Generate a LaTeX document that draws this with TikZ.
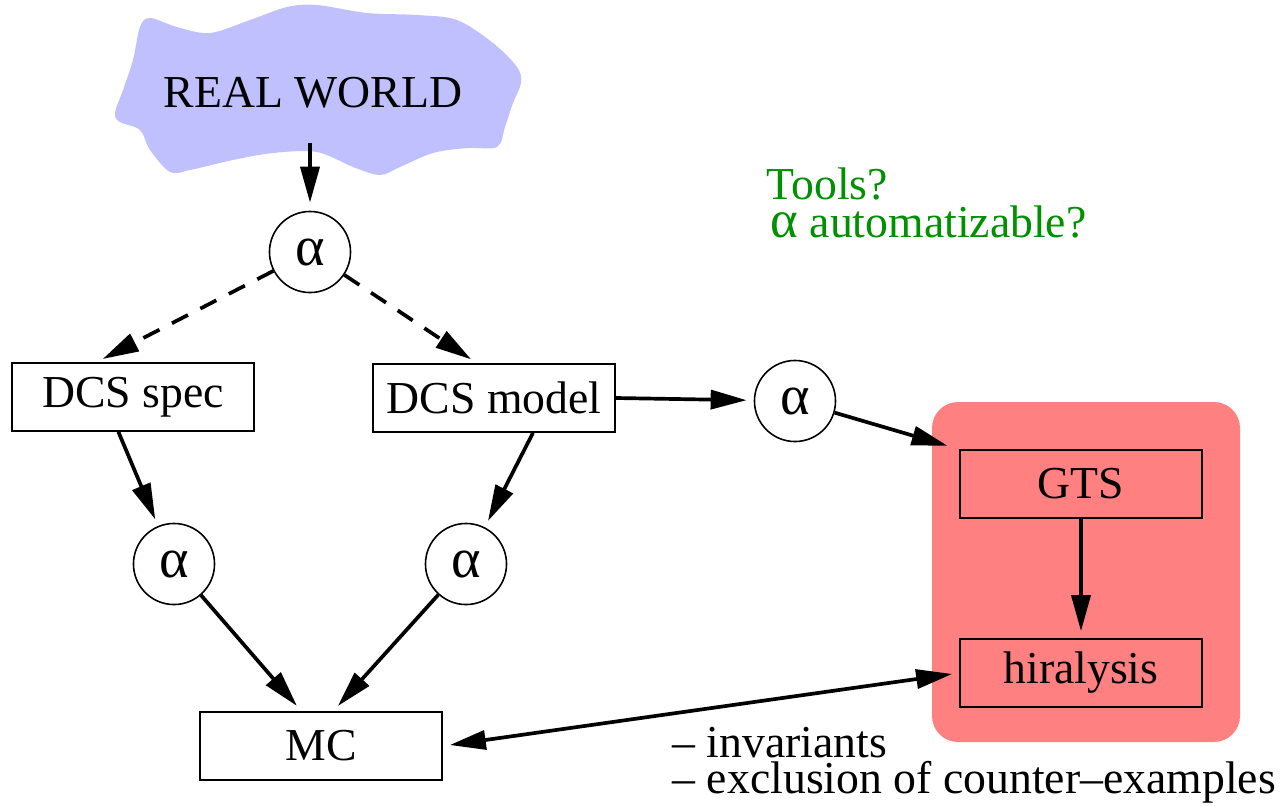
\documentclass[tikz,border=0pt]{standalone}
\usepackage{fontspec}
\setmainfont{Liberation Serif}
\usetikzlibrary{calc,arrows.meta}
\definecolor{worldblue}{RGB}{192,192,255}
\definecolor{toolred}{RGB}{255,128,128}
\definecolor{askgreen}{RGB}{0,145,0}
\newcommand{\alf}{{\fontsize{16}{16}\selectfont α}}

\begin{document}
\begin{tikzpicture}[x=0.01cm,y=-0.01cm,
  every node/.style={font=\fontsize{13}{15}\selectfont},
  box/.style={draw,line width=0.45pt,minimum width=2.42cm,minimum height=0.68cm,inner sep=0pt},
  abs/.style={draw,circle,line width=0.45pt,minimum size=0.81cm,inner sep=0pt},
  flow/.style={line width=1.05pt,-{Triangle[length=3.6mm,width=1.9mm]},shorten >=2pt},
  guess/.style={flow,dash pattern=on 1.8mm off 1.4mm},
  note/.style={anchor=base west,inner sep=0pt,align=left}]
  \useasboundingbox (0,0) rectangle (1287,805);
  % the real world
  \fill[worldblue] plot[smooth cycle,tension=0.55] coordinates {
    (150,18) (177,27) (210,33) (250,20) (287,7) (317,5) (367,13) (417,15)
    (457,20) (493,43) (517,67) (521,83) (513,103) (505,127) (497,147)
    (467,148) (433,153) (400,167) (380,175) (353,167) (317,152) (273,153)
    (233,160) (190,170) (170,172) (150,150) (140,130) (120,122) (115,113)
    (123,90) (133,60) (140,27)};
  \node (world) at (313,93) {REAL WORLD};
  \coordinate (wb) at (310,143);
  % tool box
  \fill[toolred,rounded corners=0.26cm] (932,402) rectangle (1240,742);
  % nodes
  \node[abs] (absworld) at (310,252) {\alf};
  \node[box] (dspec) at (133,397) {DCS spec};
  \node[box] (dmodel) at (494,398) {DCS model};
  \node[abs] (absgts) at (795,401) {\alf};
  \node[abs] (absspec) at (174,564) {\alf};
  \node[abs] (absmodel) at (466,564) {\alf};
  \node[box] (mc) at (321,746) {MC};
  \node[box] (gts) at (1081,484) {GTS};
  \node[box] (hira) at (1081,673) {hiralysis};
  % texts
  \node[note,askgreen,font=\fontsize{13}{10.6}\selectfont] (tools) at (766,237)
    {Tools?\\ \kern0.04cm{\fontsize{15}{10.6}\selectfont α} automatizable?};
  \node[note,font=\fontsize{13}{10.2}\selectfont] (inv) at (672,793)
    {– invariants\\– exclusion of counter–examples};
  % arrows
  \draw[flow,shorten >=0.08cm] (wb) -- (absworld);
  \draw[guess] (absworld) -- ($(dspec.north west)!0.35!(dspec.north east)$);
  \draw[guess] (absworld) -- ($(dmodel.north west)!0.43!(dmodel.north east)$);
  \draw[flow] ($(dspec.south west)!0.44!(dspec.south east)$) -- (absspec);
  \draw[flow] ($(dmodel.south west)!0.66!(dmodel.south east)$) -- (absmodel);
  \draw[flow] (absspec) -- ($(mc.north west)!0.42!(mc.north east)$);
  \draw[flow] (absmodel) -- ($(mc.north west)!0.55!(mc.north east)$);
  \draw[flow] (dmodel.east) -- (absgts);
  \draw[flow,shorten >=0.12cm] (absgts) -- (gts.north west);
  \draw[flow] (gts) -- (hira);
  \draw[flow,{Triangle[length=3.6mm,width=1.9mm]}-{Triangle[length=3.6mm,width=1.9mm]},shorten <=2pt] (mc.east) -- (hira.west);
\end{tikzpicture}
\end{document}
